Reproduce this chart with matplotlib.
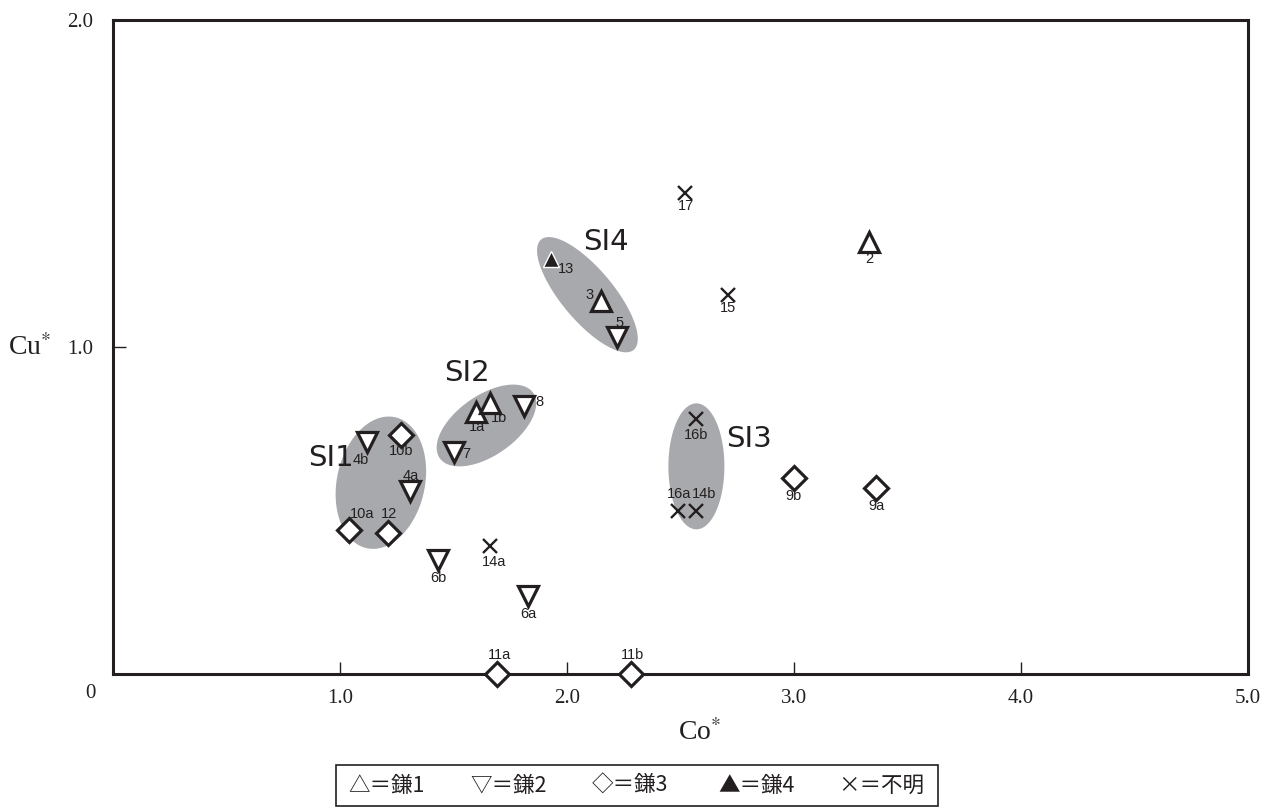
import numpy as np
import matplotlib
matplotlib.use("Agg")
import matplotlib.pyplot as plt
from matplotlib.patches import Rectangle

plt.rcParams["mathtext.fontset"] = "stix"

# ---------------- data ----------------
k1_x = [1.60, 1.66, 2.15, 3.33]
k1_y = [0.80, 0.83, 1.14, 1.32]
k1_lab = ["1a", "1b", "3", "2"]

k2_x = [1.81, 1.50, 1.12, 1.31, 2.22, 1.43, 1.83]
k2_y = [0.82, 0.68, 0.71, 0.56, 1.03, 0.35, 0.24]
k2_lab = ["8", "7", "4b", "4a", "5", "6b", "6a"]

k3_x = [1.27, 1.04, 1.21, 3.00, 3.36, 1.69, 2.28]
k3_y = [0.73, 0.44, 0.43, 0.60, 0.57, 0.00, 0.00]
k3_lab = ["10b", "10a", "12", "9b", "9a", "11a", "11b"]

k4_x = [1.93]
k4_y = [1.27]
k4_lab = ["13"]

unk_x = [2.52, 2.71, 2.57, 2.49, 2.57, 1.66]
unk_y = [1.47, 1.16, 0.78, 0.50, 0.50, 0.39]
unk_lab = ["17", "15", "16b", "16a", "14b", "14a"]

# label offsets (pixels) per point label
label_off = {
    "1a": (1, -15), "1b": (9, -15), "3": (-12, 6), "2": (0, -17),
    "8": (16, 4), "7": (13, -2), "4b": (-6, -18), "4a": (0, 15),
    "5": (3, 14), "6b": (1, -18), "6a": (0, -18),
    "10b": (0, -16), "10a": (13, 16), "12": (1, 19), "9b": (0, -18),
    "9a": (1, -18), "11a": (3, 19), "11b": (2, 19),
    "13": (15, -10),
    "17": (1, -13), "15": (0, -13), "16b": (0, -16), "16a": (1, 16),
    "14b": (8, 16), "14a": (4, -16),
}

# groups: name, center (data), semi-axes (px), angle (deg), label position (data)
groups = ["SI1", "SI2", "SI3", "SI4"]
grp_center = [(1.18, 0.585), (1.645, 0.76), (2.57, 0.635), (2.09, 1.16)]
grp_axes = [(44, 67), (57, 30), (28, 63), (72, 26)]
grp_angle = [-12, 35, 0, -50]
grp_label = [(0.96, 0.66), (1.56, 0.92), (2.80, 0.72), (2.17, 1.32)]

legend_items = ["△＝鎌1", "▽＝鎌2", "◇＝鎌3", "▲＝鎌4", "×＝不明"]

# ---------------- figure ----------------
W, H = 1273, 808
fig = plt.figure(figsize=(W / 100, H / 100), dpi=100)
ax = fig.add_axes([113 / W, 1 - 674 / H, (1248 - 113) / W, (674 - 20) / H])
ax.set_xlim(0, 5)
ax.set_ylim(0, 2)
for s in ax.spines.values():
    s.set_linewidth(2.2)
    s.set_color("#231f20")

pxx = (1248 - 113) / 5.0
pxy = (674 - 20) / 2.0

# gray blobs
t = np.linspace(0, 2 * np.pi, 200)
for (cx, cy), (a, b), ang in zip(grp_center, grp_axes, grp_angle):
    th = np.deg2rad(ang)
    ex = a * np.cos(t)
    ey = b * np.sin(t)
    rx = ex * np.cos(th) - ey * np.sin(th)
    ry = ex * np.sin(th) + ey * np.cos(th)
    ax.fill(cx + rx / pxx, cy + ry / pxy, color="#a7a9ac", lw=0, zorder=1)

for name, (lx, ly) in zip(groups, grp_label):
    ax.text(lx, ly, name, fontsize=21, family="DejaVu Sans",
            ha="center", va="center", color="#231f20", zorder=3)

mk = dict(ls="none", mec="#231f20", mfc="white", mew=2.3, zorder=4, clip_on=False)
ax.plot(k1_x, k1_y, marker="^", ms=14, **mk)
ax.plot(k2_x, k2_y, marker="v", ms=14, **mk)
ax.plot(k3_x, k3_y, marker="D", ms=12.5, **mk)
ax.plot(k4_x, k4_y, marker="^", ms=12, ls="none", mec="white", mfc="#231f20",
        mew=1.0, zorder=4)
ax.plot(unk_x, unk_y, marker="x", ms=10, ls="none", mec="#231f20", mew=1.7, zorder=4)

lab_font = ["Liberation Sans", "DejaVu Sans"]
for xs, ys, labs in [(k1_x, k1_y, k1_lab), (k2_x, k2_y, k2_lab), (k3_x, k3_y, k3_lab),
                     (k4_x, k4_y, k4_lab), (unk_x, unk_y, unk_lab)]:
    for x, y, l in zip(xs, ys, labs):
        dx, dy = label_off[l]
        ax.annotate(l, (x, y), xytext=(dx, dy), textcoords="offset pixels",
                    ha="center", va="center", fontsize=10.5, family=lab_font,
                    color="#231f20", zorder=5, annotation_clip=False)

# ticks
serif = ["Liberation Serif", "DejaVu Serif"]
ax.set_xticks([1, 2, 3, 4, 5])
ax.set_xticklabels(["1.0", "2.0", "3.0", "4.0", "5.0"])
ax.set_yticks([1, 2])
ax.set_yticklabels(["1.0", "2.0"])
ax.tick_params(direction="in", length=9, width=1.0, color="#231f20", labelsize=15)
ax.tick_params(axis="x", pad=11)
ax.tick_params(axis="y", pad=14)
for lbl in ax.get_xticklabels() + ax.get_yticklabels():
    lbl.set_family(serif)
    lbl.set_color("#231f20")
ax.text(-0.1, -0.03, "0", transform=ax.transData, ha="center", va="top",
        fontsize=15, family=serif, color="#231f20")

fig.text(30 / W, 1 - 348 / H, "Cu$^{*}$", fontsize=20, family=serif, ha="center",
         va="center", color="#231f20")
fig.text(700 / W, 1 - 733 / H, "Co$^{*}$", fontsize=20, family=serif, ha="center",
         va="center", color="#231f20")

# legend box (text items)
fig.add_artist(Rectangle((336 / W, 1 - 806 / H), (938 - 336) / W, (806 - 765) / H,
                         transform=fig.transFigure, fill=False, ec="#231f20", lw=1.2))
leg_x = [348, 470, 592, 718, 838]
cjk = ["Noto Sans CJK JP", "DejaVu Sans"]
for xp, txt in zip(leg_x, legend_items):
    fig.text(xp / W, 1 - 786 / H, txt, fontsize=15.5, family=cjk, ha="left",
             va="center", color="#231f20")

fig.savefig("out.png", dpi=100)
